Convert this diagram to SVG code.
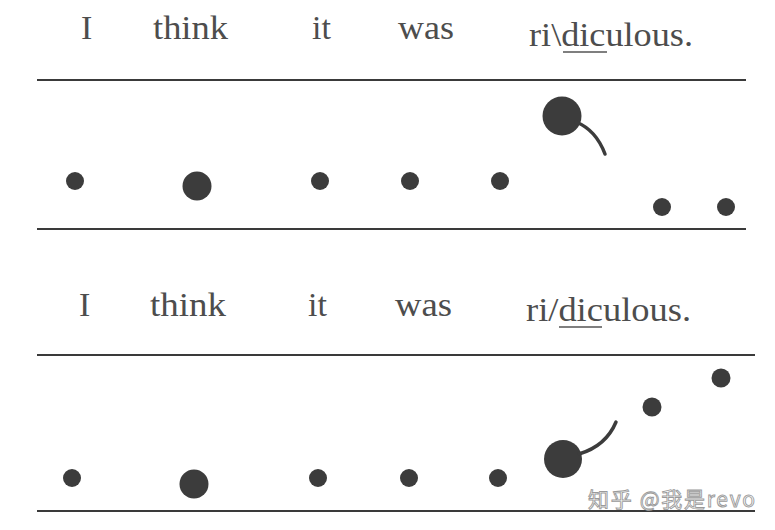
<svg xmlns="http://www.w3.org/2000/svg" width="775" height="530" viewBox="0 0 775 530">
<style>
.w{font-family:"Liberation Serif","Times New Roman",serif;font-size:34px;fill:#4d4d4d}
.rule{stroke:#3a3a3a;stroke-width:2.2;fill:none}
.ul{stroke:#555;stroke-width:1.6;fill:none}
.dot{fill:#3c3c3c}
.tail{stroke:#3c3c3c;stroke-width:3.5;fill:none;stroke-linecap:round}
.wm{font-family:"Noto Sans CJK SC","Noto Sans",sans-serif;font-size:21px;fill:#ffffff;stroke:#9a9a9a;stroke-width:0.9}
</style>
<rect width="775" height="530" fill="#ffffff"/>
<g id="panel-fall">
  <g id="words-top">
    <text class="w" x="81" y="39">I</text>
    <text class="w" x="153" y="39" textLength="75" lengthAdjust="spacingAndGlyphs">think</text>
    <text class="w" x="312" y="39">it</text>
    <text class="w" x="398" y="39" textLength="56" lengthAdjust="spacingAndGlyphs">was</text>
    <text class="w" x="529" y="46" textLength="164" lengthAdjust="spacingAndGlyphs">ri\diculous.</text>
    <line class="ul" x1="563" y1="52" x2="607" y2="52"/>
  </g>
  <line class="rule" x1="37" y1="80" x2="746" y2="80"/>
  <line class="rule" x1="37" y1="229" x2="746" y2="229"/>
  <g id="dots-top">
    <circle class="dot" cx="75" cy="181" r="9"/>
    <circle class="dot" cx="197" cy="186" r="14.5"/>
    <circle class="dot" cx="320" cy="181" r="9"/>
    <circle class="dot" cx="410" cy="181" r="9"/>
    <circle class="dot" cx="500" cy="181" r="9"/>
    <circle class="dot" cx="562" cy="116" r="19.5"/>
    <path class="tail" d="M576,122 Q596,130 605,154"/>
    <circle class="dot" cx="662" cy="207" r="9"/>
    <circle class="dot" cx="726" cy="207" r="9"/>
  </g>
</g>
<g id="panel-rise">
  <g id="words-bottom">
    <text class="w" x="79" y="316">I</text>
    <text class="w" x="150" y="316" textLength="76" lengthAdjust="spacingAndGlyphs">think</text>
    <text class="w" x="308" y="316">it</text>
    <text class="w" x="395" y="316" textLength="57" lengthAdjust="spacingAndGlyphs">was</text>
    <text class="w" x="526" y="321" textLength="165" lengthAdjust="spacingAndGlyphs">ri/diculous.</text>
    <line class="ul" x1="559" y1="327" x2="602" y2="327"/>
  </g>
  <line class="rule" x1="37" y1="355" x2="755" y2="355"/>
  <line class="rule" x1="37" y1="511" x2="755" y2="511"/>
  <g id="dots-bottom">
    <circle class="dot" cx="72" cy="478" r="9"/>
    <circle class="dot" cx="194" cy="484" r="14.5"/>
    <circle class="dot" cx="318" cy="478" r="9"/>
    <circle class="dot" cx="409" cy="478" r="9"/>
    <circle class="dot" cx="498" cy="478" r="9"/>
    <circle class="dot" cx="563" cy="459" r="19"/>
    <path class="tail" d="M579,454 Q606,446 616,422"/>
    <circle class="dot" cx="652" cy="407" r="9.5"/>
    <circle class="dot" cx="721" cy="378" r="9.5"/>
  </g>
</g>
<text class="wm" x="588" y="507" textLength="167" lengthAdjust="spacing">知乎 @我是revo</text>
</svg>
